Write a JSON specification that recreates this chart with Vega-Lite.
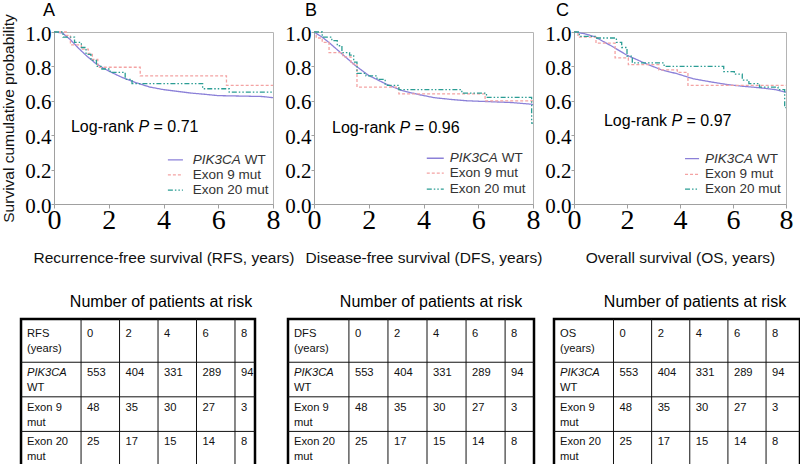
{
 "$schema": "https://vega.github.io/schema/vega-lite/v6.json",
 "padding": {"left": 1, "top": 1, "right": 0, "bottom": 0},
 "background": "white",
 "datasets": {
  "curves": [
   {"p":"A","s":"WT","t":0,"v":1},{"p":"A","s":"WT","t":0.3,"v":0.995},{"p":"A","s":"WT","t":0.6,"v":0.955},{"p":"A","s":"WT","t":0.9,"v":0.905},{"p":"A","s":"WT","t":1.2,"v":0.86},{"p":"A","s":"WT","t":1.5,"v":0.82},{"p":"A","s":"WT","t":1.8,"v":0.79},{"p":"A","s":"WT","t":2.1,"v":0.765},{"p":"A","s":"WT","t":2.5,"v":0.735},{"p":"A","s":"WT","t":3.0,"v":0.705},{"p":"A","s":"WT","t":3.5,"v":0.68},{"p":"A","s":"WT","t":4.0,"v":0.665},{"p":"A","s":"WT","t":4.5,"v":0.655},{"p":"A","s":"WT","t":5.0,"v":0.645},{"p":"A","s":"WT","t":5.5,"v":0.638},{"p":"A","s":"WT","t":6.0,"v":0.63},{"p":"A","s":"WT","t":7.0,"v":0.627},{"p":"A","s":"WT","t":7.6,"v":0.625},{"p":"A","s":"WT","t":8.0,"v":0.618},
   {"p":"A","s":"E9","t":0,"v":1},{"p":"A","s":"E9","t":0.45,"v":0.98},{"p":"A","s":"E9","t":0.6,"v":0.925},{"p":"A","s":"E9","t":1.0,"v":0.9},{"p":"A","s":"E9","t":1.25,"v":0.875},{"p":"A","s":"E9","t":1.4,"v":0.84},{"p":"A","s":"E9","t":1.6,"v":0.795},{"p":"A","s":"E9","t":3.15,"v":0.745},{"p":"A","s":"E9","t":6.3,"v":0.69},{"p":"A","s":"E9","t":8,"v":0.69},
   {"p":"A","s":"E20","t":0,"v":1},{"p":"A","s":"E20","t":0.33,"v":0.97},{"p":"A","s":"E20","t":0.75,"v":0.94},{"p":"A","s":"E20","t":1.0,"v":0.91},{"p":"A","s":"E20","t":1.17,"v":0.87},{"p":"A","s":"E20","t":1.35,"v":0.835},{"p":"A","s":"E20","t":1.55,"v":0.8},{"p":"A","s":"E20","t":1.75,"v":0.785},{"p":"A","s":"E20","t":2.05,"v":0.765},{"p":"A","s":"E20","t":2.6,"v":0.725},{"p":"A","s":"E20","t":2.85,"v":0.7},{"p":"A","s":"E20","t":5.43,"v":0.67},{"p":"A","s":"E20","t":6.4,"v":0.65},{"p":"A","s":"E20","t":8,"v":0.65},
   {"p":"B","s":"WT","t":0,"v":1},{"p":"B","s":"WT","t":0.3,"v":0.97},{"p":"B","s":"WT","t":0.54,"v":0.94},{"p":"B","s":"WT","t":1.02,"v":0.873},{"p":"B","s":"WT","t":1.51,"v":0.805},{"p":"B","s":"WT","t":2.0,"v":0.747},{"p":"B","s":"WT","t":2.6,"v":0.7},{"p":"B","s":"WT","t":3.2,"v":0.66},{"p":"B","s":"WT","t":3.8,"v":0.637},{"p":"B","s":"WT","t":4.4,"v":0.618},{"p":"B","s":"WT","t":5.0,"v":0.608},{"p":"B","s":"WT","t":5.6,"v":0.6},{"p":"B","s":"WT","t":6.4,"v":0.595},{"p":"B","s":"WT","t":7.2,"v":0.59},{"p":"B","s":"WT","t":7.96,"v":0.58},{"p":"B","s":"WT","t":8,"v":0.575},
   {"p":"B","s":"E9","t":0,"v":1},{"p":"B","s":"E9","t":0.08,"v":0.965},{"p":"B","s":"E9","t":0.3,"v":0.94},{"p":"B","s":"E9","t":0.55,"v":0.88},{"p":"B","s":"E9","t":1.05,"v":0.855},{"p":"B","s":"E9","t":1.35,"v":0.815},{"p":"B","s":"E9","t":1.57,"v":0.68},{"p":"B","s":"E9","t":3.1,"v":0.64},{"p":"B","s":"E9","t":6.25,"v":0.6},{"p":"B","s":"E9","t":8,"v":0.6},
   {"p":"B","s":"E20","t":0,"v":1},{"p":"B","s":"E20","t":0.3,"v":0.97},{"p":"B","s":"E20","t":0.65,"v":0.95},{"p":"B","s":"E20","t":0.85,"v":0.92},{"p":"B","s":"E20","t":1.02,"v":0.88},{"p":"B","s":"E20","t":1.3,"v":0.865},{"p":"B","s":"E20","t":1.45,"v":0.825},{"p":"B","s":"E20","t":1.57,"v":0.76},{"p":"B","s":"E20","t":1.9,"v":0.745},{"p":"B","s":"E20","t":2.3,"v":0.725},{"p":"B","s":"E20","t":2.6,"v":0.69},{"p":"B","s":"E20","t":3.1,"v":0.665},{"p":"B","s":"E20","t":5.4,"v":0.645},{"p":"B","s":"E20","t":6.3,"v":0.62},{"p":"B","s":"E20","t":7.95,"v":0.47},{"p":"B","s":"E20","t":8,"v":0.47},
   {"p":"C","s":"WT","t":0,"v":1},{"p":"C","s":"WT","t":0.4,"v":0.99},{"p":"C","s":"WT","t":0.77,"v":0.973},{"p":"C","s":"WT","t":1.4,"v":0.92},{"p":"C","s":"WT","t":2.0,"v":0.865},{"p":"C","s":"WT","t":2.65,"v":0.82},{"p":"C","s":"WT","t":3.3,"v":0.78},{"p":"C","s":"WT","t":3.9,"v":0.757},{"p":"C","s":"WT","t":4.5,"v":0.728},{"p":"C","s":"WT","t":5.2,"v":0.709},{"p":"C","s":"WT","t":5.8,"v":0.694},{"p":"C","s":"WT","t":6.4,"v":0.684},{"p":"C","s":"WT","t":7.0,"v":0.676},{"p":"C","s":"WT","t":7.6,"v":0.665},{"p":"C","s":"WT","t":8,"v":0.65},
   {"p":"C","s":"E9","t":0,"v":1},{"p":"C","s":"E9","t":0.15,"v":0.97},{"p":"C","s":"E9","t":0.83,"v":0.935},{"p":"C","s":"E9","t":1.55,"v":0.85},{"p":"C","s":"E9","t":2.05,"v":0.81},{"p":"C","s":"E9","t":3.2,"v":0.78},{"p":"C","s":"E9","t":3.9,"v":0.765},{"p":"C","s":"E9","t":4.3,"v":0.69},{"p":"C","s":"E9","t":8,"v":0.69},
   {"p":"C","s":"E20","t":0,"v":1},{"p":"C","s":"E20","t":0.2,"v":0.975},{"p":"C","s":"E20","t":0.8,"v":0.965},{"p":"C","s":"E20","t":1.6,"v":0.94},{"p":"C","s":"E20","t":1.8,"v":0.91},{"p":"C","s":"E20","t":2.0,"v":0.86},{"p":"C","s":"E20","t":2.2,"v":0.82},{"p":"C","s":"E20","t":3.4,"v":0.8},{"p":"C","s":"E20","t":5.65,"v":0.77},{"p":"C","s":"E20","t":6.05,"v":0.755},{"p":"C","s":"E20","t":6.35,"v":0.72},{"p":"C","s":"E20","t":6.6,"v":0.7},{"p":"C","s":"E20","t":7.0,"v":0.68},{"p":"C","s":"E20","t":7.7,"v":0.665},{"p":"C","s":"E20","t":7.95,"v":0.56},{"p":"C","s":"E20","t":8,"v":0.56}
  ],
  "leg": [
   {"p":"A","s":"WT","x1":4.16,"x2":4.71,"tx":5.07,"y":0.256,"name":"WT"},
   {"p":"A","s":"E9","x1":4.16,"x2":4.71,"tx":5.07,"y":0.169,"name":"Exon 9 mut"},
   {"p":"A","s":"E20","x1":4.16,"x2":4.71,"tx":5.07,"y":0.081,"name":"Exon 20 mut"},
   {"p":"B","s":"WT","x1":4.12,"x2":4.74,"tx":4.96,"y":0.266,"name":"WT"},
   {"p":"B","s":"E9","x1":4.12,"x2":4.74,"tx":4.96,"y":0.179,"name":"Exon 9 mut"},
   {"p":"B","s":"E20","x1":4.12,"x2":4.74,"tx":4.96,"y":0.087,"name":"Exon 20 mut"},
   {"p":"C","s":"WT","x1":4.19,"x2":4.72,"tx":4.94,"y":0.264,"name":"WT"},
   {"p":"C","s":"E9","x1":4.19,"x2":4.72,"tx":4.94,"y":0.172,"name":"Exon 9 mut"},
   {"p":"C","s":"E20","x1":4.19,"x2":4.72,"tx":4.94,"y":0.086,"name":"Exon 20 mut"}
  ],
  "lr": [
   {"p":"A","x":0.62,"y":0.45,"pv":"= 0.71"},
   {"p":"B","x":0.66,"y":0.44,"pv":"= 0.96"},
   {"p":"C","x":1.13,"y":0.48,"pv":"= 0.97"}
  ],
  "letters": [
   {"p":"A","x":-0.4,"y":1.094,"l":"A"},
   {"p":"B","x":-0.33,"y":1.094,"l":"B"},
   {"p":"C","x":-0.68,"y":1.094,"l":"C"}
  ],
  "cells": [
   {"p":"A","c":0,"r":0,"t":"RFS\n(years)"},{"p":"B","c":0,"r":0,"t":"DFS\n(years)"},{"p":"C","c":0,"r":0,"t":"OS\n(years)"},
   {"p":"all","c":1.56,"r":0,"t":"0"},{"p":"all","c":2.56,"r":0,"t":"2"},{"p":"all","c":3.56,"r":0,"t":"4"},{"p":"all","c":4.56,"r":0,"t":"6"},{"p":"all","c":5.56,"r":0,"t":"8"},
   {"p":"all","c":0,"r":1.25,"t":"PIK3CA","it":true},{"p":"all","c":0,"r":1.25,"t":"\nWT"},
   {"p":"all","c":1.56,"r":1.25,"t":"553"},{"p":"all","c":2.56,"r":1.25,"t":"404"},{"p":"all","c":3.56,"r":1.25,"t":"331"},{"p":"all","c":4.56,"r":1.25,"t":"289"},{"p":"all","c":5.56,"r":1.25,"t":"94"},
   {"p":"all","c":0,"r":2.25,"t":"Exon 9\nmut"},
   {"p":"all","c":1.56,"r":2.25,"t":"48"},{"p":"all","c":2.56,"r":2.25,"t":"35"},{"p":"all","c":3.56,"r":2.25,"t":"30"},{"p":"all","c":4.56,"r":2.25,"t":"27"},{"p":"all","c":5.56,"r":2.25,"t":"3"},
   {"p":"all","c":0,"r":3.25,"t":"Exon 20\nmut"},
   {"p":"all","c":1.56,"r":3.25,"t":"25"},{"p":"all","c":2.56,"r":3.25,"t":"17"},{"p":"all","c":3.56,"r":3.25,"t":"15"},{"p":"all","c":4.56,"r":3.25,"t":"14"},{"p":"all","c":5.56,"r":3.25,"t":"8"}
  ],
  "vlines": [{"x":1.56},{"x":2.56},{"x":3.56},{"x":4.56},{"x":5.56}],
  "hlines": [{"y":1.25},{"y":2.25},{"y":3.25}]
 },
 "align": "none",
 "spacing": 27,
 "vconcat": [
  {
   "bounds": "flush",
   "spacing": 41,
   "hconcat": [
    {
     "width": 219, "height": 172,
     "layer": [
      {"data": {"name": "curves"}, "transform": [{"filter": "datum.p === 'A' && datum.s === 'WT'"}],
       "mark": {"type": "line", "strokeWidth": 1.3},
       "encoding": {
        "x": {"field": "t", "type": "quantitative", "scale": {"domain": [0, 8], "nice": false}, "axis": {"values": [0, 2, 4, 6, 8], "tickCount": 10, "format": "d", "labelOverlap": false, "title": "Recurrence-free survival (RFS, years)"}},
        "y": {"field": "v", "type": "quantitative", "scale": {"domain": [0, 1], "nice": false}, "axis": {"values": [0, 0.2, 0.4, 0.6, 0.8, 1], "tickCount": 10, "format": ".1f", "labelOverlap": false, "title": "Survival cumulative probability"}},
        "color": {"field": "s", "type": "nominal", "scale": {"domain": ["WT", "E9", "E20"], "range": ["#8b80d8", "#f4a3a3", "#2b9d94"]}, "legend": null},
        "strokeDash": {"field": "s", "type": "nominal", "scale": {"domain": ["WT", "E9", "E20"], "range": [[1, 0], [3, 2], [5, 2, 1.5, 2, 1.5, 2]]}, "legend": null}
       }},
      {"data": {"name": "curves"}, "transform": [{"filter": "datum.p === 'A' && datum.s !== 'WT'"}],
       "mark": {"type": "line", "interpolate": "step-after", "strokeWidth": 1.3},
       "encoding": {"x": {"field": "t", "type": "quantitative"}, "y": {"field": "v", "type": "quantitative"}, "color": {"field": "s", "type": "nominal", "legend": null}, "strokeDash": {"field": "s", "type": "nominal", "legend": null}}},
      {"data": {"name": "leg"}, "transform": [{"filter": "datum.p === 'A'"}],
       "mark": {"type": "rule", "strokeWidth": 1.3},
       "encoding": {"x": {"field": "x1", "type": "quantitative"}, "x2": {"field": "x2"}, "y": {"field": "y", "type": "quantitative"}, "color": {"field": "s", "type": "nominal", "legend": null}, "strokeDash": {"field": "s", "type": "nominal", "legend": null}}},
      {"data": {"name": "leg"}, "transform": [{"filter": "datum.p === 'A' && datum.s !== 'WT'"}],
       "mark": {"type": "text", "align": "left", "baseline": "middle", "fontSize": 13.5, "color": "#333"},
       "encoding": {"x": {"field": "tx", "type": "quantitative"}, "y": {"field": "y", "type": "quantitative"}, "text": {"field": "name"}}},
      {"data": {"name": "leg"}, "transform": [{"filter": "datum.p === 'A' && datum.s === 'WT'"}],
       "mark": {"type": "text", "align": "left", "baseline": "middle", "fontSize": 13.5, "color": "#333", "fontStyle": "italic"},
       "encoding": {"x": {"field": "tx", "type": "quantitative"}, "y": {"field": "y", "type": "quantitative"}, "text": {"value": "PIK3CA"}}},
      {"data": {"name": "leg"}, "transform": [{"filter": "datum.p === 'A' && datum.s === 'WT'"}],
       "mark": {"type": "text", "align": "left", "baseline": "middle", "fontSize": 13.5, "color": "#333", "dx": 52},
       "encoding": {"x": {"field": "tx", "type": "quantitative"}, "y": {"field": "y", "type": "quantitative"}, "text": {"field": "name"}}},
      {"data": {"name": "lr"}, "transform": [{"filter": "datum.p === 'A'"}],
       "mark": {"type": "text", "align": "left", "baseline": "middle", "fontSize": 16, "color": "#000"},
       "encoding": {"x": {"field": "x", "type": "quantitative"}, "y": {"field": "y", "type": "quantitative"}, "text": {"value": "Log-rank"}}},
      {"data": {"name": "lr"}, "transform": [{"filter": "datum.p === 'A'"}],
       "mark": {"type": "text", "align": "left", "baseline": "middle", "fontSize": 16, "color": "#000", "fontStyle": "italic", "dx": 67.5},
       "encoding": {"x": {"field": "x", "type": "quantitative"}, "y": {"field": "y", "type": "quantitative"}, "text": {"value": "P"}}},
      {"data": {"name": "lr"}, "transform": [{"filter": "datum.p === 'A'"}],
       "mark": {"type": "text", "align": "left", "baseline": "middle", "fontSize": 16, "color": "#000", "dx": 82.6},
       "encoding": {"x": {"field": "x", "type": "quantitative"}, "y": {"field": "y", "type": "quantitative"}, "text": {"field": "pv"}}},
      {"data": {"name": "letters"}, "transform": [{"filter": "datum.p === 'A'"}],
       "mark": {"type": "text", "align": "left", "baseline": "alphabetic", "fontSize": 18, "color": "#000"},
       "encoding": {"x": {"field": "x", "type": "quantitative"}, "y": {"field": "y", "type": "quantitative"}, "text": {"field": "l"}}}
     ]
    },
    {
     "width": 219, "height": 172,
     "layer": [
      {"data": {"name": "curves"}, "transform": [{"filter": "datum.p === 'B' && datum.s === 'WT'"}],
       "mark": {"type": "line", "strokeWidth": 1.3},
       "encoding": {
        "x": {"field": "t", "type": "quantitative", "scale": {"domain": [0, 8], "nice": false}, "axis": {"values": [0, 2, 4, 6, 8], "tickCount": 10, "format": "d", "labelOverlap": false, "title": "Disease-free survival (DFS, years)"}},
        "y": {"field": "v", "type": "quantitative", "scale": {"domain": [0, 1], "nice": false}, "axis": {"values": [0, 0.2, 0.4, 0.6, 0.8, 1], "tickCount": 10, "format": ".1f", "labelOverlap": false, "title": null}},
        "color": {"field": "s", "type": "nominal", "scale": {"domain": ["WT", "E9", "E20"], "range": ["#8b80d8", "#f4a3a3", "#2b9d94"]}, "legend": null},
        "strokeDash": {"field": "s", "type": "nominal", "scale": {"domain": ["WT", "E9", "E20"], "range": [[1, 0], [3, 2], [5, 2, 1.5, 2, 1.5, 2]]}, "legend": null}
       }},
      {"data": {"name": "curves"}, "transform": [{"filter": "datum.p === 'B' && datum.s !== 'WT'"}],
       "mark": {"type": "line", "interpolate": "step-after", "strokeWidth": 1.3},
       "encoding": {"x": {"field": "t", "type": "quantitative"}, "y": {"field": "v", "type": "quantitative"}, "color": {"field": "s", "type": "nominal", "legend": null}, "strokeDash": {"field": "s", "type": "nominal", "legend": null}}},
      {"data": {"name": "leg"}, "transform": [{"filter": "datum.p === 'B'"}],
       "mark": {"type": "rule", "strokeWidth": 1.3},
       "encoding": {"x": {"field": "x1", "type": "quantitative"}, "x2": {"field": "x2"}, "y": {"field": "y", "type": "quantitative"}, "color": {"field": "s", "type": "nominal", "legend": null}, "strokeDash": {"field": "s", "type": "nominal", "legend": null}}},
      {"data": {"name": "leg"}, "transform": [{"filter": "datum.p === 'B' && datum.s !== 'WT'"}],
       "mark": {"type": "text", "align": "left", "baseline": "middle", "fontSize": 13.5, "color": "#333"},
       "encoding": {"x": {"field": "tx", "type": "quantitative"}, "y": {"field": "y", "type": "quantitative"}, "text": {"field": "name"}}},
      {"data": {"name": "leg"}, "transform": [{"filter": "datum.p === 'B' && datum.s === 'WT'"}],
       "mark": {"type": "text", "align": "left", "baseline": "middle", "fontSize": 13.5, "color": "#333", "fontStyle": "italic"},
       "encoding": {"x": {"field": "tx", "type": "quantitative"}, "y": {"field": "y", "type": "quantitative"}, "text": {"value": "PIK3CA"}}},
      {"data": {"name": "leg"}, "transform": [{"filter": "datum.p === 'B' && datum.s === 'WT'"}],
       "mark": {"type": "text", "align": "left", "baseline": "middle", "fontSize": 13.5, "color": "#333", "dx": 52},
       "encoding": {"x": {"field": "tx", "type": "quantitative"}, "y": {"field": "y", "type": "quantitative"}, "text": {"field": "name"}}},
      {"data": {"name": "lr"}, "transform": [{"filter": "datum.p === 'B'"}],
       "mark": {"type": "text", "align": "left", "baseline": "middle", "fontSize": 16, "color": "#000"},
       "encoding": {"x": {"field": "x", "type": "quantitative"}, "y": {"field": "y", "type": "quantitative"}, "text": {"value": "Log-rank"}}},
      {"data": {"name": "lr"}, "transform": [{"filter": "datum.p === 'B'"}],
       "mark": {"type": "text", "align": "left", "baseline": "middle", "fontSize": 16, "color": "#000", "fontStyle": "italic", "dx": 67.5},
       "encoding": {"x": {"field": "x", "type": "quantitative"}, "y": {"field": "y", "type": "quantitative"}, "text": {"value": "P"}}},
      {"data": {"name": "lr"}, "transform": [{"filter": "datum.p === 'B'"}],
       "mark": {"type": "text", "align": "left", "baseline": "middle", "fontSize": 16, "color": "#000", "dx": 82.6},
       "encoding": {"x": {"field": "x", "type": "quantitative"}, "y": {"field": "y", "type": "quantitative"}, "text": {"field": "pv"}}},
      {"data": {"name": "letters"}, "transform": [{"filter": "datum.p === 'B'"}],
       "mark": {"type": "text", "align": "left", "baseline": "alphabetic", "fontSize": 18, "color": "#000"},
       "encoding": {"x": {"field": "x", "type": "quantitative"}, "y": {"field": "y", "type": "quantitative"}, "text": {"field": "l"}}}
     ]
    },
    {
     "width": 212, "height": 172,
     "layer": [
      {"data": {"name": "curves"}, "transform": [{"filter": "datum.p === 'C' && datum.s === 'WT'"}],
       "mark": {"type": "line", "strokeWidth": 1.3},
       "encoding": {
        "x": {"field": "t", "type": "quantitative", "scale": {"domain": [0, 8], "nice": false}, "axis": {"values": [0, 2, 4, 6, 8], "tickCount": 10, "format": "d", "labelOverlap": false, "title": "Overall survival (OS, years)"}},
        "y": {"field": "v", "type": "quantitative", "scale": {"domain": [0, 1], "nice": false}, "axis": {"values": [0, 0.2, 0.4, 0.6, 0.8, 1], "tickCount": 10, "format": ".1f", "labelOverlap": false, "title": null}},
        "color": {"field": "s", "type": "nominal", "scale": {"domain": ["WT", "E9", "E20"], "range": ["#8b80d8", "#f4a3a3", "#2b9d94"]}, "legend": null},
        "strokeDash": {"field": "s", "type": "nominal", "scale": {"domain": ["WT", "E9", "E20"], "range": [[1, 0], [3, 2], [5, 2, 1.5, 2, 1.5, 2]]}, "legend": null}
       }},
      {"data": {"name": "curves"}, "transform": [{"filter": "datum.p === 'C' && datum.s !== 'WT'"}],
       "mark": {"type": "line", "interpolate": "step-after", "strokeWidth": 1.3},
       "encoding": {"x": {"field": "t", "type": "quantitative"}, "y": {"field": "v", "type": "quantitative"}, "color": {"field": "s", "type": "nominal", "legend": null}, "strokeDash": {"field": "s", "type": "nominal", "legend": null}}},
      {"data": {"name": "leg"}, "transform": [{"filter": "datum.p === 'C'"}],
       "mark": {"type": "rule", "strokeWidth": 1.3},
       "encoding": {"x": {"field": "x1", "type": "quantitative"}, "x2": {"field": "x2"}, "y": {"field": "y", "type": "quantitative"}, "color": {"field": "s", "type": "nominal", "legend": null}, "strokeDash": {"field": "s", "type": "nominal", "legend": null}}},
      {"data": {"name": "leg"}, "transform": [{"filter": "datum.p === 'C' && datum.s !== 'WT'"}],
       "mark": {"type": "text", "align": "left", "baseline": "middle", "fontSize": 13.5, "color": "#333"},
       "encoding": {"x": {"field": "tx", "type": "quantitative"}, "y": {"field": "y", "type": "quantitative"}, "text": {"field": "name"}}},
      {"data": {"name": "leg"}, "transform": [{"filter": "datum.p === 'C' && datum.s === 'WT'"}],
       "mark": {"type": "text", "align": "left", "baseline": "middle", "fontSize": 13.5, "color": "#333", "fontStyle": "italic"},
       "encoding": {"x": {"field": "tx", "type": "quantitative"}, "y": {"field": "y", "type": "quantitative"}, "text": {"value": "PIK3CA"}}},
      {"data": {"name": "leg"}, "transform": [{"filter": "datum.p === 'C' && datum.s === 'WT'"}],
       "mark": {"type": "text", "align": "left", "baseline": "middle", "fontSize": 13.5, "color": "#333", "dx": 52},
       "encoding": {"x": {"field": "tx", "type": "quantitative"}, "y": {"field": "y", "type": "quantitative"}, "text": {"field": "name"}}},
      {"data": {"name": "lr"}, "transform": [{"filter": "datum.p === 'C'"}],
       "mark": {"type": "text", "align": "left", "baseline": "middle", "fontSize": 16, "color": "#000"},
       "encoding": {"x": {"field": "x", "type": "quantitative"}, "y": {"field": "y", "type": "quantitative"}, "text": {"value": "Log-rank"}}},
      {"data": {"name": "lr"}, "transform": [{"filter": "datum.p === 'C'"}],
       "mark": {"type": "text", "align": "left", "baseline": "middle", "fontSize": 16, "color": "#000", "fontStyle": "italic", "dx": 67.5},
       "encoding": {"x": {"field": "x", "type": "quantitative"}, "y": {"field": "y", "type": "quantitative"}, "text": {"value": "P"}}},
      {"data": {"name": "lr"}, "transform": [{"filter": "datum.p === 'C'"}],
       "mark": {"type": "text", "align": "left", "baseline": "middle", "fontSize": 16, "color": "#000", "dx": 82.6},
       "encoding": {"x": {"field": "x", "type": "quantitative"}, "y": {"field": "y", "type": "quantitative"}, "text": {"field": "pv"}}},
      {"data": {"name": "letters"}, "transform": [{"filter": "datum.p === 'C'"}],
       "mark": {"type": "text", "align": "left", "baseline": "alphabetic", "fontSize": 18, "color": "#000"},
       "encoding": {"x": {"field": "x", "type": "quantitative"}, "y": {"field": "y", "type": "quantitative"}, "text": {"field": "l"}}}
     ]
    }
   ]
  },
  {
   "bounds": "flush",
   "spacing": 20,
   "hconcat": [
    {
     "width": 201, "height": 147,
     "view": {"stroke": null},
     "title": {"text": "Number of patients at risk", "anchor": "middle", "dx": 6.5, "offset": -5, "baseline": "alphabetic", "fontSize": 16},
     "layer": [
      {"data": {"values": [{}]}, "mark": {"type": "rect", "fill": "transparent", "stroke": "#000", "strokeWidth": 2.5},
       "encoding": {"x": {"datum": 0, "type": "quantitative", "scale": {"domain": [0.857, 6.08], "nice": false, "zero": false}, "axis": null}, "x2": {"datum": 6.08}, "y": {"datum": 0, "type": "quantitative", "scale": {"domain": [0, 4.25], "nice": false, "reverse": true}, "axis": null}, "y2": {"datum": 4.25}}},
      {"data": {"name": "vlines"}, "mark": {"type": "rule", "color": "#111", "strokeWidth": 1},
       "encoding": {"x": {"field": "x", "type": "quantitative", "axis": null}, "y": {"datum": 0, "type": "quantitative", "axis": null}, "y2": {"datum": 4.25}}},
      {"data": {"name": "hlines"}, "mark": {"type": "rule", "color": "#111", "strokeWidth": 1},
       "encoding": {"y": {"field": "y", "type": "quantitative", "axis": null}, "x": {"datum": 0, "type": "quantitative", "axis": null}, "x2": {"datum": 6.08}}},
      {"data": {"name": "cells"}, "transform": [{"filter": "(datum.p === 'A' || datum.p === 'all') && datum.r === 0"}],
       "mark": {"type": "text", "align": "left", "baseline": "top", "dx": 6, "dy": 9, "fontSize": 11.2, "color": "#111"},
       "encoding": {"x": {"field": "c", "type": "quantitative", "axis": null}, "y": {"field": "r", "type": "quantitative", "axis": null}, "text": {"field": "t"}}},
      {"data": {"name": "cells"}, "transform": [{"filter": "datum.p === 'all' && datum.r > 0 && !datum.it"}],
       "mark": {"type": "text", "align": "left", "baseline": "top", "dx": 6, "dy": 5, "fontSize": 11.2, "color": "#111"},
       "encoding": {"x": {"field": "c", "type": "quantitative", "axis": null}, "y": {"field": "r", "type": "quantitative", "axis": null}, "text": {"field": "t"}}},
      {"data": {"name": "cells"}, "transform": [{"filter": "datum.it === true"}],
       "mark": {"type": "text", "align": "left", "baseline": "top", "dx": 6, "dy": 5, "fontSize": 11.2, "color": "#111", "fontStyle": "italic"},
       "encoding": {"x": {"field": "c", "type": "quantitative", "axis": null}, "y": {"field": "r", "type": "quantitative", "axis": null}, "text": {"field": "t"}}}
     ]
    },
    {
     "width": 259, "height": 147,
     "view": {"stroke": null},
     "title": {"text": "Number of patients at risk", "anchor": "middle", "dx": 26.5, "offset": -5, "baseline": "alphabetic", "fontSize": 16},
     "layer": [
      {"data": {"values": [{}]}, "mark": {"type": "rect", "fill": "transparent", "stroke": "#000", "strokeWidth": 2.5},
       "encoding": {"x": {"datum": 0, "type": "quantitative", "scale": {"domain": [-0.333, 6.3], "nice": false, "zero": false}, "axis": null}, "x2": {"datum": 6.3}, "y": {"datum": 0, "type": "quantitative", "scale": {"domain": [0, 4.25], "nice": false, "reverse": true}, "axis": null}, "y2": {"datum": 4.25}}},
      {"data": {"name": "vlines"}, "mark": {"type": "rule", "color": "#111", "strokeWidth": 1},
       "encoding": {"x": {"field": "x", "type": "quantitative", "axis": null}, "y": {"datum": 0, "type": "quantitative", "axis": null}, "y2": {"datum": 4.25}}},
      {"data": {"name": "hlines"}, "mark": {"type": "rule", "color": "#111", "strokeWidth": 1},
       "encoding": {"y": {"field": "y", "type": "quantitative", "axis": null}, "x": {"datum": 0, "type": "quantitative", "axis": null}, "x2": {"datum": 6.3}}},
      {"data": {"name": "cells"}, "transform": [{"filter": "(datum.p === 'B' || datum.p === 'all') && datum.r === 0"}],
       "mark": {"type": "text", "align": "left", "baseline": "top", "dx": 6, "dy": 9, "fontSize": 11.2, "color": "#111"},
       "encoding": {"x": {"field": "c", "type": "quantitative", "axis": null}, "y": {"field": "r", "type": "quantitative", "axis": null}, "text": {"field": "t"}}},
      {"data": {"name": "cells"}, "transform": [{"filter": "datum.p === 'all' && datum.r > 0 && !datum.it"}],
       "mark": {"type": "text", "align": "left", "baseline": "top", "dx": 6, "dy": 5, "fontSize": 11.2, "color": "#111"},
       "encoding": {"x": {"field": "c", "type": "quantitative", "axis": null}, "y": {"field": "r", "type": "quantitative", "axis": null}, "text": {"field": "t"}}},
      {"data": {"name": "cells"}, "transform": [{"filter": "datum.it === true"}],
       "mark": {"type": "text", "align": "left", "baseline": "top", "dx": 6, "dy": 5, "fontSize": 11.2, "color": "#111", "fontStyle": "italic"},
       "encoding": {"x": {"field": "c", "type": "quantitative", "axis": null}, "y": {"field": "r", "type": "quantitative", "axis": null}, "text": {"field": "t"}}}
     ]
    },
    {
     "width": 246, "height": 147,
     "view": {"stroke": null},
     "title": {"text": "Number of patients at risk", "anchor": "middle", "dx": 18, "offset": -5, "baseline": "alphabetic", "fontSize": 16},
     "layer": [
      {"data": {"values": [{}]}, "mark": {"type": "rect", "fill": "transparent", "stroke": "#000", "strokeWidth": 2.5},
       "encoding": {"x": {"datum": 0, "type": "quantitative", "scale": {"domain": [0, 6.45], "nice": false, "zero": false}, "axis": null}, "x2": {"datum": 6.45}, "y": {"datum": 0, "type": "quantitative", "scale": {"domain": [0, 4.25], "nice": false, "reverse": true}, "axis": null}, "y2": {"datum": 4.25}}},
      {"data": {"name": "vlines"}, "mark": {"type": "rule", "color": "#111", "strokeWidth": 1},
       "encoding": {"x": {"field": "x", "type": "quantitative", "axis": null}, "y": {"datum": 0, "type": "quantitative", "axis": null}, "y2": {"datum": 4.25}}},
      {"data": {"name": "hlines"}, "mark": {"type": "rule", "color": "#111", "strokeWidth": 1},
       "encoding": {"y": {"field": "y", "type": "quantitative", "axis": null}, "x": {"datum": 0, "type": "quantitative", "axis": null}, "x2": {"datum": 6.45}}},
      {"data": {"name": "cells"}, "transform": [{"filter": "(datum.p === 'C' || datum.p === 'all') && datum.r === 0"}],
       "mark": {"type": "text", "align": "left", "baseline": "top", "dx": 6, "dy": 9, "fontSize": 11.2, "color": "#111"},
       "encoding": {"x": {"field": "c", "type": "quantitative", "axis": null}, "y": {"field": "r", "type": "quantitative", "axis": null}, "text": {"field": "t"}}},
      {"data": {"name": "cells"}, "transform": [{"filter": "datum.p === 'all' && datum.r > 0 && !datum.it"}],
       "mark": {"type": "text", "align": "left", "baseline": "top", "dx": 6, "dy": 5, "fontSize": 11.2, "color": "#111"},
       "encoding": {"x": {"field": "c", "type": "quantitative", "axis": null}, "y": {"field": "r", "type": "quantitative", "axis": null}, "text": {"field": "t"}}},
      {"data": {"name": "cells"}, "transform": [{"filter": "datum.it === true"}],
       "mark": {"type": "text", "align": "left", "baseline": "top", "dx": 6, "dy": 5, "fontSize": 11.2, "color": "#111", "fontStyle": "italic"},
       "encoding": {"x": {"field": "c", "type": "quantitative", "axis": null}, "y": {"field": "r", "type": "quantitative", "axis": null}, "text": {"field": "t"}}}
     ]
    }
   ]
  }
 ],
 "config": {
  "font": "Liberation Sans",
  "view": {"stroke": "#b4b4b4", "strokeWidth": 1},
  "axis": {"grid": false, "domainColor": "#a0a0a0", "tickColor": "#a0a0a0", "labelColor": "#000", "labelFont": "Liberation Serif", "titleFont": "Liberation Sans", "titleFontWeight": "normal", "titleColor": "#111", "labelOverlap": false},
  "axisX": {"labelFontSize": 28, "tickSize": 4, "labelPadding": -2, "titleFontSize": 15.5, "titlePadding": 16, "labelFlush": false},
  "axisY": {"labelFontSize": 21, "tickSize": 3, "labelPadding": 0, "labelOffset": 2, "titleFontSize": 15.5, "titlePadding": 8},
  "title": {"font": "Liberation Sans", "fontWeight": "normal", "color": "#000"},
  "text": {"font": "Liberation Sans", "lineBreak": "\n", "lineHeight": 15}
 }
}
